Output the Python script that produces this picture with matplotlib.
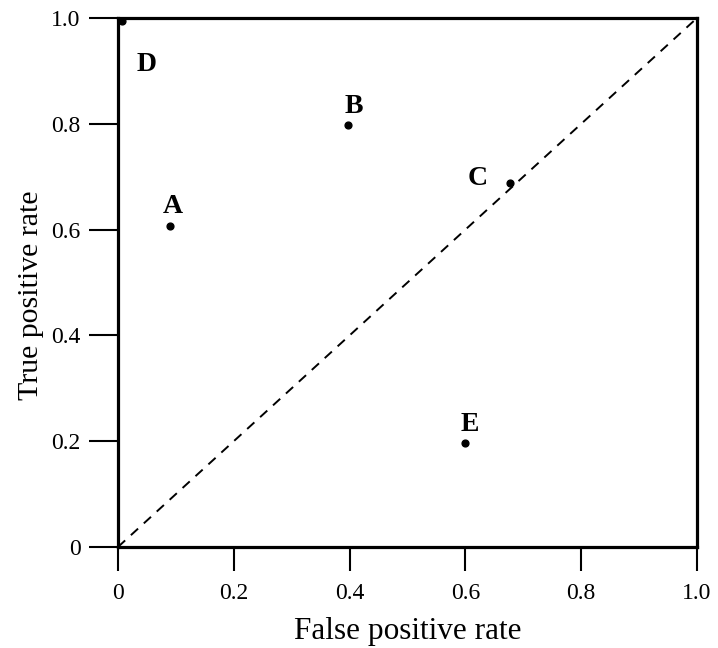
import matplotlib
matplotlib.use("Agg")
import matplotlib.pyplot as plt

names = ["A", "B", "C", "D", "E"]
fpr = [0.09, 0.397, 0.677, 0.007, 0.60]
tpr = [0.607, 0.798, 0.688, 0.994, 0.197]
# label offsets in points (dx, dy)
offsets = [(2, 14), (4, 13), (-23, 3), (18, -31), (3, 13)]

xticks = [0, 0.2, 0.4, 0.6, 0.8, 1.0]
xticklabels = ["0", "0.2", "0.4", "0.6", "0.8", "1.0"]
yticks = [0, 0.2, 0.4, 0.6, 0.8, 1.0]
yticklabels = ["0", "0.2", "0.4", "0.6", "0.8", "1.0"]

plt.rcParams['font.family'] = ['Liberation Serif', 'DejaVu Serif']

fig = plt.figure(figsize=(7.18, 6.48), dpi=100)
ax = fig.add_axes([0.1643, 0.1559, 0.8065, 0.8163])

ax.plot([0, 1], [0, 1], linestyle=(0, (5, 4)), color="black", linewidth=1.4, zorder=1)
ax.scatter(fpr, tpr, s=24, color="black", zorder=3)
for n, x, y, (dx, dy) in zip(names, fpr, tpr, offsets):
    ax.annotate(n, (x, y), xytext=(dx, dy), textcoords="offset points",
                ha="center", va="center", fontsize=20, fontweight="bold")

ax.set_xlim(0, 1)
ax.set_ylim(0, 1)
ax.set_xticks(xticks)
ax.set_xticklabels(xticklabels)
ax.set_yticks(yticks)
ax.set_yticklabels(yticklabels)
ax.tick_params(axis="x", direction="out", length=17, width=1.5, labelsize=17, pad=9)
ax.tick_params(axis="y", direction="out", length=21, width=1.5, labelsize=17, pad=6)
for s in ax.spines.values():
    s.set_linewidth(2.3)

ax.set_xlabel("False positive rate", fontsize=22.5, labelpad=9)
ax.set_ylabel("True positive rate", fontsize=21.5, labelpad=5)
ax.yaxis.label.set_y(0.475)

fig.savefig("out.png", dpi=100)
